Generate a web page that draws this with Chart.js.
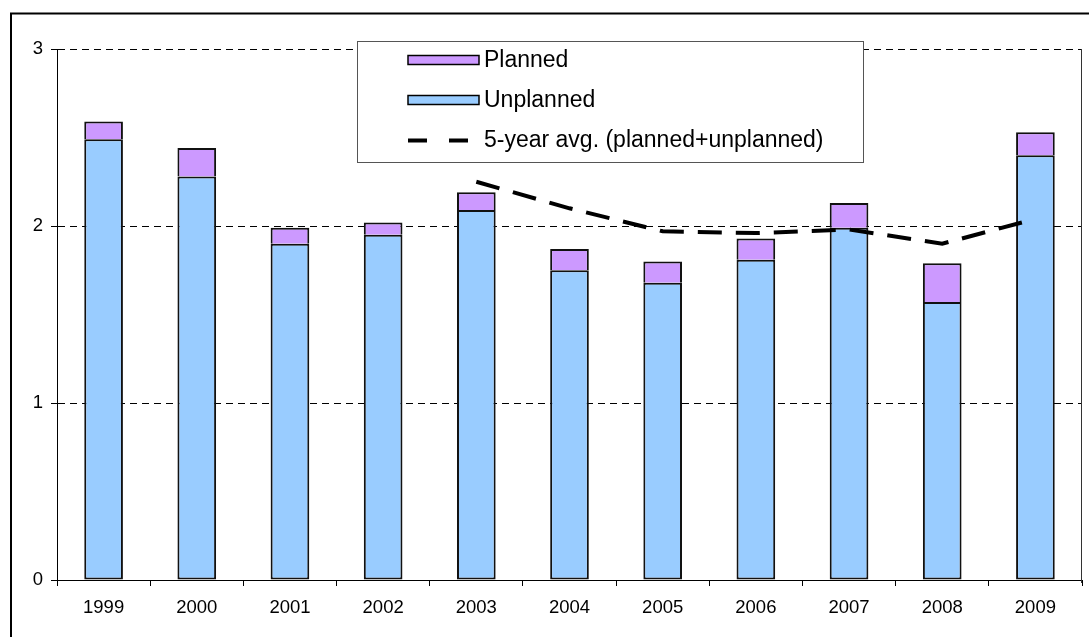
<!DOCTYPE html>
<html>
<head>
<meta charset="utf-8">
<script src="https://cdn.jsdelivr.net/npm/chart.js@4/dist/chart.umd.min.js"></script>
<style>
  html, body { margin: 0; padding: 0; background: #fff; }
  #wrap { width: 1089px; height: 637px; position: relative; }
</style>
</head>
<body>
<div id="wrap"><canvas id="c" width="1089" height="637"></canvas></div>
<script>
// Outage rates per year, split into planned and unplanned parts
const years = ['1999', '2000', '2001', '2002', '2003', '2004', '2005', '2006', '2007', '2008', '2009'];
const unplanned = [2.49, 2.28, 1.90, 1.95, 2.09, 1.75, 1.68, 1.81, 1.99, 1.57, 2.40];
const planned = [0.10, 0.16, 0.09, 0.07, 0.10, 0.12, 0.12, 0.12, 0.14, 0.22, 0.13];
// Rolling 5-year average of planned+unplanned
const fiveYearAvg = [null, null, null, null, 2.25, 2.10, 1.97, 1.96, 1.98, 1.90, 2.04];
const yTickValues = [0, 1, 2, 3];

const FONT = "'Liberation Sans', Arial, sans-serif";
const PURPLE = '#CC99FF';
const BLUE = '#99CCFF';

// Page frame and the right edge of the plot area
const framePlugin = {
  id: 'frame',
  beforeDraw(chart) {
    const ctx = chart.ctx;
    ctx.save();
    ctx.fillStyle = '#fff';
    ctx.fillRect(0, 0, chart.width, chart.height);
    ctx.strokeStyle = '#000';
    ctx.lineWidth = 2;
    ctx.strokeRect(11, 13.5, chart.width + 50, chart.height + 50);
    ctx.restore();
  },
  afterDraw(chart) {
    const ctx = chart.ctx;
    const a = chart.chartArea;
    ctx.save();
    ctx.strokeStyle = '#333';
    ctx.lineWidth = 1;
    ctx.beginPath();
    ctx.moveTo(Math.round(a.right) - 0.5, a.top);
    ctx.lineTo(Math.round(a.right) - 0.5, a.bottom + 3);
    ctx.stroke();
    ctx.restore();
  }
};

// Boxed legend placed inside the plot
const boxLegend = {
  id: 'boxLegend',
  afterDraw(chart) {
    const ctx = chart.ctx;
    const ds = chart.data.datasets;
    const box = { x: 357.5, y: 41.5, w: 506, h: 121 };
    ctx.save();
    ctx.fillStyle = '#fff';
    ctx.fillRect(box.x, box.y, box.w, box.h);
    ctx.strokeStyle = '#555';
    ctx.lineWidth = 1;
    ctx.strokeRect(box.x, box.y, box.w, box.h);

    const sx = 408, sw = 71, tx = 484;
    const rows = [
      { ds: ds[1], y: 60 },
      { ds: ds[0], y: 100 },
      { ds: ds[2], y: 140 }
    ];
    ctx.font = '23px ' + FONT;
    ctx.textBaseline = 'middle';
    ctx.textAlign = 'left';
    rows.forEach(r => {
      if (r.ds.type === 'line') {
        ctx.strokeStyle = '#000';
        ctx.lineWidth = 4;
        ctx.setLineDash([19, 22]);
        ctx.beginPath();
        ctx.moveTo(sx, r.y + 0.5);
        ctx.lineTo(sx + sw, r.y + 0.5);
        ctx.stroke();
        ctx.setLineDash([]);
      } else {
        ctx.fillStyle = r.ds.backgroundColor;
        ctx.fillRect(sx, r.y - 4.5, sw, 9);
        ctx.strokeStyle = '#000';
        ctx.lineWidth = 1.5;
        ctx.strokeRect(sx, r.y - 4.5, sw, 9);
      }
      ctx.fillStyle = '#000';
      ctx.fillText(r.ds.label, tx, r.y + 1);
    });
    ctx.restore();
  }
};

new Chart(document.getElementById('c'), {
  type: 'bar',
  data: {
    labels: years,
    datasets: [
      {
        label: 'Unplanned',
        data: unplanned,
        backgroundColor: BLUE,
        borderColor: '#111',
        borderWidth: 2,
        borderSkipped: false,
        stack: 's',
        order: 2
      },
      {
        label: 'Planned',
        data: planned,
        backgroundColor: PURPLE,
        borderColor: '#111',
        borderWidth: 2,
        borderSkipped: 'start',
        stack: 's',
        order: 2
      },
      {
        type: 'line',
        label: '5-year avg. (planned+unplanned)',
        data: fiveYearAvg,
        borderColor: '#000',
        borderWidth: 4,
        borderDash: [24, 14],
        borderCapStyle: 'butt',
        tension: 0,
        pointRadius: 0,
        fill: false,
        spanGaps: false,
        order: 0
      }
    ]
  },
  options: {
    responsive: false,
    animation: false,
    devicePixelRatio: 1,
    layout: { padding: { left: 0, top: 49, right: 7, bottom: 0 } },
    datasets: {
      bar: { categoryPercentage: 1, barPercentage: 0.415 }
    },
    plugins: {
      legend: { display: false },
      tooltip: { enabled: false }
    },
    scales: {
      x: {
        stacked: true,
        offset: true,
        grid: {
          offset: true,
          drawOnChartArea: false,
          drawTicks: true,
          tickLength: 6,
          tickColor: '#000',
          tickWidth: 1
        },
        border: { display: true, color: '#000', width: 1 },
        ticks: {
          color: '#000',
          font: { family: FONT, size: 18.5 },
          padding: 11,
          maxRotation: 0,
          autoSkip: false
        },
        afterFit(scale) { scale.height = 57; }
      },
      y: {
        stacked: true,
        min: 0,
        max: 3,
        afterBuildTicks(scale) {
          scale.ticks = yTickValues.map(v => ({ value: v }));
        },
        grid: {
          color: '#000',
          lineWidth: 1,
          drawTicks: true,
          tickLength: 6,
          tickColor: '#000',
          tickBorderDash: []
        },
        border: { display: true, color: '#000', width: 1, dash: [7, 5] },
        ticks: {
          color: '#000',
          font: { family: FONT, size: 18.5 },
          padding: 8
        },
        afterFit(scale) { scale.width = 57; }
      }
    }
  },
  plugins: [framePlugin, boxLegend]
});
</script>
</body>
</html>
